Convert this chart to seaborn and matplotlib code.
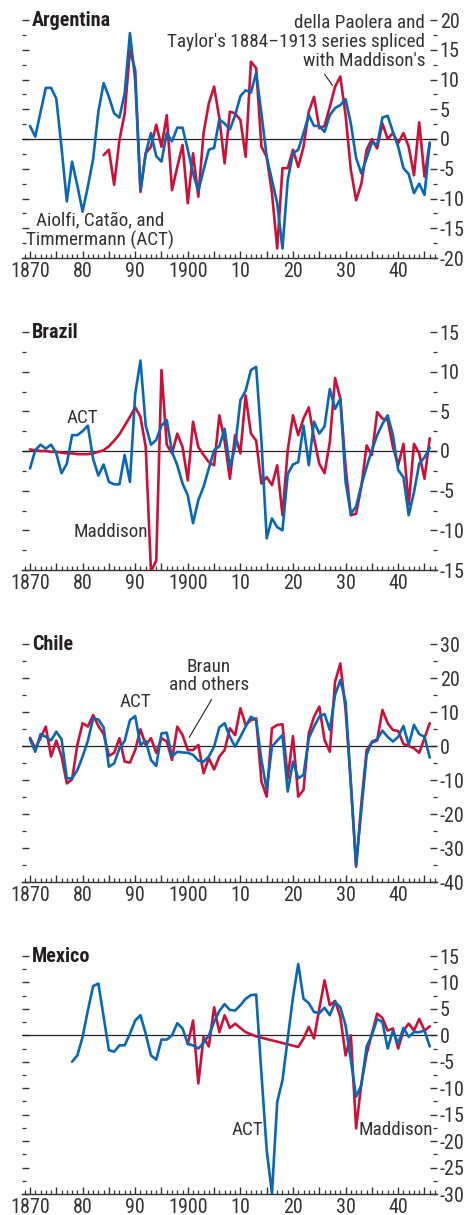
import numpy as np
import pandas as pd
import matplotlib
matplotlib.use("Agg")
import matplotlib.pyplot as plt
from matplotlib import font_manager as fm
from matplotlib.ticker import MultipleLocator, FuncFormatter
import seaborn as sns

# ---------------- data ----------------
years = list(range(1870, 1947))
N = None

arg_act = [2.2, 0.4, 4.5, 8.6, 8.6, 6.8, -1.5, -10.5, -3.8, -7.8,
           -12.2, -8.0, -3.4, 4.6, 9.4, 7.1, 4.3, 3.6, 7.7, 17.8,
           9.9, -8.6, -2.4, 1.0, -2.9, -3.8, 1.0, -0.4, 1.9, 1.9,
           -1.8, -5.8, -8.7, -5.2, -1.8, -1.5, 3.3, 2.6, 1.6, 4.0,
           7.2, 8.2, 7.8, 11.1, 4.3, -3.0, -6.9, -10.8, -18.4, -6.9,
           -2.4, -1.8, 1.0, 4.0, 2.2, 2.2, 1.2, 4.0, 5.2, 5.7,
           6.7, 2.6, -3.2, -5.8, -3.2, -0.6, -1.0, 3.6, 3.9, 1.2,
           -1.3, -4.9, -5.9, -9.1, -7.5, -9.4, -0.6]
arg_dpt = [N, N, N, N, N, N, N, N, N, N,
           N, N, N, N, -2.7, -1.8, -7.7, -0.2, 4.3, 15.0,
           11.6, -8.9, -2.4, -1.3, 2.4, -1.3, 4.0, -8.6, -4.7, -1.0,
           -10.8, -2.4, -9.7, 1.0, 6.0, 8.8, 3.5, -4.1, 4.6, 4.3,
           3.2, -3.0, 13.0, 11.9, -1.3, -3.0, -9.1, -18.4, -4.9, -4.9,
           -1.8, -4.7, -1.3, 4.6, 7.1, 1.8, 2.2, 5.4, 8.8, 10.5,
           4.0, -5.2, -10.3, -7.5, -1.8, 0.0, -1.6, 2.6, 0.0, 1.0,
           -0.7, 1.0, -1.3, -6.1, 2.8, -6.3, -0.7]

bra_act = [-2.2, 0.1, 0.8, 0.3, 0.8, -0.3, -2.8, -1.6, 2.0, 2.0,
           2.5, 3.2, -1.0, -3.1, -1.7, -3.9, -4.2, -4.2, -0.5, -3.9,
           7.2, 11.4, 3.2, 0.8, 1.4, 3.2, 3.9, -0.1, -1.8, -4.1,
           -5.6, -9.1, -6.2, -4.5, -2.2, 0.1, 0.6, 2.8, -2.0, 0.5,
           6.4, 7.6, 10.2, 10.6, 1.3, -11.0, -8.5, -9.6, -10.0, -2.9,
           -1.7, -1.4, 3.2, -1.8, 3.7, 2.2, 3.1, 7.8, 5.3, 6.6,
           -3.9, -7.9, -7.0, -4.3, -2.0, 0.1, 2.0, 3.4, 4.5, 2.0,
           -2.4, -3.3, -8.1, -5.2, -1.6, -0.8, 0.4]
bra_mad = [0.2, 0.1, 0.0, 0.0, -0.1, -0.1, -0.2, -0.3, -0.3, -0.4,
           -0.4, -0.4, -0.3, -0.1, 0.1, 0.6, 1.3, 2.1, 3.2, 4.3,
           5.5, 4.3, 0.5, -15.2, -13.8, 10.2, 0.8, -0.3, 2.2, 0.5,
           -3.7, 3.7, 0.5, -0.5, -1.4, -1.8, 4.5, 1.3, -3.5, 2.0,
           -0.3, 7.0, 2.2, 1.3, -4.1, -3.3, -4.3, -1.8, -8.1, 0.1,
           4.5, 2.0, 4.1, 5.5, 1.6, -1.6, -2.8, 1.1, 9.2, 6.6,
           -2.0, -8.1, -7.9, -4.5, 0.7, -0.5, 4.9, 4.1, 3.9, 0.5,
           -1.8, 0.9, -6.8, 0.9, -0.3, -3.5, 1.6]

chl_act = [2.0, -1.7, 3.5, 2.7, 1.6, 4.2, 2.0, -9.5, -9.5, -7.1,
           -3.1, 1.5, 8.1, 7.8, 5.5, -6.1, -5.1, -0.7, 1.5, 7.6,
           8.8, 0.3, 1.5, -4.1, -5.9, 3.7, 3.9, -3.1, -1.7, -1.9,
           -2.0, -2.6, -4.3, -4.6, -3.1, -0.2, 5.5, 6.7, 2.7, -0.2,
           2.7, 5.7, 8.6, 7.6, -4.1, -12.9, -0.2, 1.6, 3.2, -13.4,
           -4.6, -9.5, -8.5, 2.3, 5.7, 8.6, 9.4, 4.7, 15.0, 19.4,
           13.0, -11.0, -35.0, -18.8, -2.6, 1.3, 2.0, 4.5, 2.7, 1.3,
           2.7, 5.9, 0.3, 6.2, 3.5, 2.7, -3.4]
chl_braun = [2.4, -0.7, 2.3, 5.7, -3.1, 1.6, -3.1, -11.0, -9.8, 0.3,
             6.7, 5.7, 9.1, 5.9, 3.5, -2.9, -2.0, 2.3, -4.6, -4.9,
             -1.2, 4.9, 0.3, 2.3, -2.0, 2.3, 1.3, -4.1, 5.7, 3.2,
             -1.2, -1.2, 0.3, -8.0, -3.6, -6.9, -3.1, -1.2, 5.2, 3.2,
             11.1, 6.2, 7.6, 8.1, -10.5, -14.9, 5.2, 6.2, 6.4, -9.5,
             2.9, -14.9, -12.9, 3.7, 8.6, 11.6, 1.8, -1.7, 18.9, 24.3,
             10.6, -11.0, -35.5, -16.8, -1.2, 1.0, 1.6, 10.6, 6.7, 4.7,
             4.4, 0.6, 0.0, -0.7, -2.0, 2.3, 6.7]

mex_act = [N, N, N, N, N, N, N, N, -5.0, -3.8,
           -0.3, 4.7, 9.3, 9.8, 3.5, -2.8, -3.1, -1.9, -1.9, 0.3,
           2.8, 3.8, 0.3, -3.8, -4.6, -0.8, -0.8, 0.0, 2.3, 1.3,
           -1.6, -1.9, -2.5, -1.4, 0.0, 2.5, 4.6, 5.9, 4.8, 4.7,
           5.7, 6.9, 7.6, 7.7, -7.2, -21.7, -29.9, -12.6, -8.5, -0.6,
           7.2, 13.5, 6.9, 6.1, 4.4, 4.2, 5.2, 3.8, 6.3, 5.3,
           1.9, -4.7, -11.6, -9.4, -2.1, 0.0, 3.1, 2.5, -2.5, 0.9,
           -1.6, 1.4, -0.3, 0.6, 0.6, 0.9, -2.1]
mex_mad = [N, N, N, N, N, N, N, N, N, N,
           N, N, N, N, N, N, N, N, N, N,
           N, N, N, N, N, N, N, N, N, N,
           -1.7, 2.8, -9.1, -0.3, -2.1, 5.3, 0.6, 3.8, 1.4, 2.2,
           1.4, 0.6, 0.2, -0.2, N, N, N, N, N, N,
           N, -2.2, -0.6, 1.6, -0.6, 5.0, 10.4, 5.7, 6.5, 3.5,
           -3.8, 0.0, -17.6, -9.1, -3.5, 0.3, 4.1, 3.3, 0.9, 1.3,
           -2.5, 0.9, 2.2, 0.9, 3.1, 0.9, 1.7]

panel_titles = ["Argentina", "Brazil", "Chile", "Mexico"]
ylims = [(-20, 20), (-15, 15), (-40, 30), (-30, 15)]
ymajor = [5, 5, 10, 5]
decade_ticks = [1870, 1880, 1890, 1900, 1910, 1920, 1930, 1940]
decade_labels = ["1870", "80", "90", "1900", "10", "20", "30", "40"]

RED = "#C8123A"
BLUE = "#0B67B0"
TXT = "#231F20"
GRY = "#333333"

# ---------------- style ----------------
sns.set_theme(style="white")

# pick a narrow / condensed sans font if one is installed
fam, stretch, scale = None, "normal", 1.0
names = {}
for f in fm.fontManager.ttflist:
    names.setdefault(f.name, set()).add(str(f.stretch))
cond_words = ("condensed", "semi-condensed", "extra-condensed", "ultra-condensed")
for cand in ["Liberation Sans Narrow", "Roboto Condensed", "Open Sans Condensed",
             "Noto Sans Condensed", "DejaVu Sans Condensed", "Arial Narrow"]:
    if cand in names:
        fam = cand
        break
if fam is None:
    for cand in ["Noto Sans", "Roboto", "Open Sans", "DejaVu Sans"]:
        sts = names.get(cand, set())
        hit = [s for s in sts if s in cond_words]
        if hit:
            fam, stretch = cand, ("condensed" if "condensed" in hit else hit[0])
            break
if fam is None:
    fam, scale = "Roboto", 0.86

plt.rcParams["font.family"] = [fam, "DejaVu Sans"]
plt.rcParams["font.stretch"] = stretch
plt.rcParams["axes.unicode_minus"] = False

FS = 14.5 * scale      # tick labels / titles
FA = 13.8 * scale      # annotations

fig = plt.figure(figsize=(4.70, 12.15), dpi=100)

tops_px = [20, 332, 644, 956]
H = 1215.0
W = 470.0
ax_left = 22 / W
ax_w = 415 / W
ax_h = 238 / H

series = [(arg_act, arg_dpt), (bra_act, bra_mad), (chl_act, chl_braun), (mex_act, mex_mad)]

axes = []
for i, (blue_vals, red_vals) in enumerate(series):
    bottom = 1 - (tops_px[i] + 238) / H
    ax = fig.add_axes([ax_left, bottom, ax_w, ax_h])
    axes.append(ax)
    df = pd.DataFrame({"year": years, "act": blue_vals, "other": red_vals}).astype(float)
    d_red = df[["year", "other"]].dropna()
    d_blue = df[["year", "act"]].dropna()
    ax.axhline(0, color="#222222", lw=0.9, zorder=1)
    sns.lineplot(data=d_red, x="year", y="other", ax=ax, color=RED, lw=1.9,
                 legend=False, zorder=3, estimator=None)
    sns.lineplot(data=d_blue, x="year", y="act", ax=ax, color=BLUE, lw=1.9,
                 legend=False, zorder=4, estimator=None)
    ax.set_xlim(1868.48, 1947.38)
    ax.set_ylim(*ylims[i])
    ax.set_xlabel("")
    ax.set_ylabel("")
    for s in ["top", "left", "right"]:
        ax.spines[s].set_visible(False)
    ax.spines["bottom"].set_color(GRY)
    ax.spines["bottom"].set_linewidth(1.0)
    ax.set_facecolor("none")

    ax.xaxis.set_major_locator(MultipleLocator(5))
    ax.xaxis.set_minor_locator(MultipleLocator(1))
    lbl = dict(zip(decade_ticks, decade_labels))
    ax.xaxis.set_major_formatter(FuncFormatter(lambda v, p, lbl=lbl: lbl.get(int(round(v)), "")))
    ax.tick_params(axis="x", which="major", direction="in", length=5, width=1.0,
                   color=GRY, labelsize=FS, labelcolor=GRY, pad=3, bottom=True, top=False)
    ax.tick_params(axis="x", which="minor", direction="in", length=3, width=0.9,
                   color=GRY, bottom=True, top=False)

    ax.yaxis.set_major_locator(MultipleLocator(ymajor[i]))
    ax.yaxis.set_minor_locator(MultipleLocator(ymajor[i] / 2))
    ax.yaxis.set_major_formatter(FuncFormatter(lambda v, p: "%d" % round(v)))
    ax.tick_params(axis="y", which="major", direction="in", length=5, width=1.0,
                   color=GRY, left=True, right=True, labelleft=False, labelright=True,
                   labelsize=FS, labelcolor=GRY, pad=2)
    ax.tick_params(axis="y", which="minor", direction="in", length=3, width=0.9,
                   color=GRY, left=True, right=True)

    ax.text(0.024, 1.0, panel_titles[i], transform=ax.transAxes, ha="left", va="center",
            fontsize=FS, fontweight="bold", color=TXT)

a0, a1, a2, a3 = axes
a0.text(1945.1, 16.3, "della Paolera and\nTaylor's 1884\u20131913 series spliced\nwith Maddison's",
        ha="right", va="center", fontsize=FA, color=GRY, linespacing=1.05)
a0.annotate("", xy=(1927.8, 8.6), xytext=(1925.7, 11.3),
            arrowprops=dict(arrowstyle="-", color="#222222", lw=0.8))
a0.text(1883.3, -15.4, "Aiolfi, Cat\u00e3o, and\nTimmermann (ACT)", ha="center", va="center",
        fontsize=FA, color=GRY, linespacing=1.05)

a1.text(1879.9, 4.2, "ACT", ha="center", va="center", fontsize=FA, color=GRY)
a1.text(1885.4, -10.2, "Maddison", ha="center", va="center", fontsize=FA, color=GRY)

a2.text(1890.0, 12.9, "ACT", ha="center", va="center", fontsize=FA, color=GRY)
a2.text(1904.0, 20.6, "Braun\nand others", ha="center", va="center", fontsize=FA,
        color=GRY, linespacing=1.05)
a2.annotate("", xy=(1900.0, 1.8), xytext=(1904.8, 14.4),
            arrowprops=dict(arrowstyle="-", color="#222222", lw=0.8))

a3.text(1911.3, -17.9, "ACT", ha="center", va="center", fontsize=FA, color=GRY)
a3.text(1939.6, -17.9, "Maddison", ha="center", va="center", fontsize=FA, color=GRY)

fig.savefig("out.png", dpi=100)
